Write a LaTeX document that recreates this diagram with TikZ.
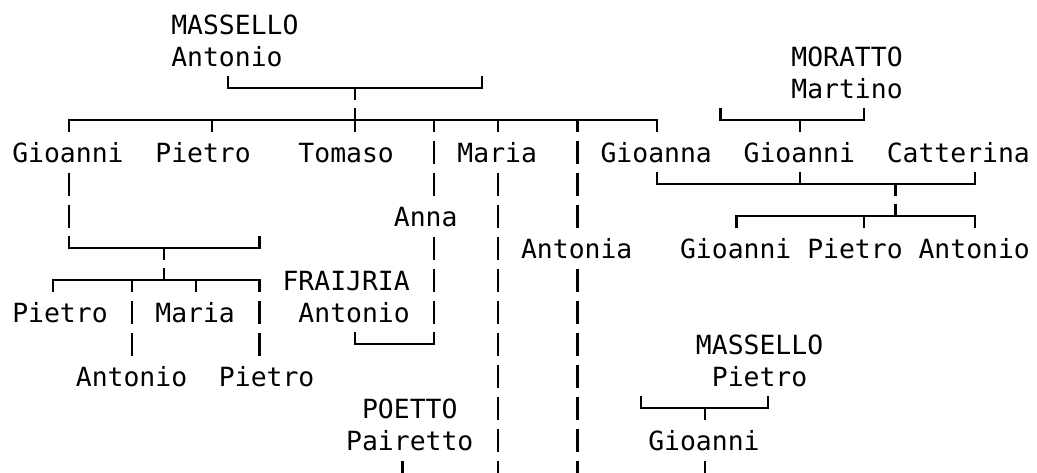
\documentclass[tikz,border=0pt]{standalone}
\usepackage{fontspec}
\newfontfamily\monof{DejaVu Sans Mono}
\tikzset{
  txt/.style={font=\monof\fontsize{19.81pt}{24pt}\selectfont, inner sep=0pt, anchor=base west, text=black},
  ln/.style={line width=1.6pt, draw=black},
  hln/.style={ln, line cap=rect}
}
% grid helpers: column c, row r (pixel units, y downwards)
\newcommand\tN[4]{\node[txt] (#1) at ({12+15.9*(#2)},{34+32*(#3)}) {#4};}
\newcommand\tV[2]{\draw[ln] ({20.95+15.9*(#1)},{24.4+32*(#2)-11.5}) -- ++(0,23);}
\newcommand\tU[2]{\draw[ln] ({20.95+15.9*(#1)},{24.4+32*(#2)-12}) -- ++(0,12);}
\newcommand\tD[2]{\draw[ln] ({20.95+15.9*(#1)},{24.4+32*(#2)}) -- ++(0,12);}
\newcommand\tH[3]{\draw[hln] ({20.95+15.9*(#1)},{24.4+32*(#3)}) -- ({20.95+15.9*(#2)},{24.4+32*(#3)});}
\begin{document}
\begin{tikzpicture}[x=0.75pt,y=-0.75pt]
\fill[white] (0,0) rectangle (1037,472);
\useasboundingbox (0,0) rectangle (1037,472);
\clip (0,0) rectangle (1037,472);

% ---- names ----
\tN{massA}{10}{0}{MASSELLO}
\tN{antA}{10}{1}{Antonio}
\tN{moratto}{49}{1}{MORATTO}
\tN{martino}{49}{2}{Martino}
\tN{gioA}{0}{4}{Gioanni}
\tN{pieA}{9}{4}{Pietro}
\tN{tomaso}{18}{4}{Tomaso}
\tN{mariaA}{28}{4}{Maria}
\tN{gioanna}{37}{4}{Gioanna}
\tN{gioB}{46}{4}{Gioanni}
\tN{catterina}{55}{4}{Catterina}
\tN{anna}{24}{6}{Anna}
\tN{antonia}{32}{7}{Antonia}
\tN{gioC}{42}{7}{Gioanni}
\tN{pieC}{50}{7}{Pietro}
\tN{antC}{57}{7}{Antonio}
\tN{fraijria}{17}{8}{FRAIJRIA}
\tN{pieD}{0}{9}{Pietro}
\tN{mariaD}{9}{9}{Maria}
\tN{antF}{18}{9}{Antonio}
\tN{massP}{43}{10}{MASSELLO}
\tN{antD}{4}{11}{Antonio}
\tN{pieE}{13}{11}{Pietro}
\tN{pieP}{44}{11}{Pietro}
\tN{poetto}{22}{12}{POETTO}
\tN{pairetto}{21}{13}{Pairetto}
\tN{gioE}{40}{13}{Gioanni}

% ---- MASSELLO Antonio bracket ----
\tU{13}{2} \tU{29}{2} \tH{13}{29}{2} \tD{21}{2}
% ---- children line ----
\tU{21}{3} \tH{3}{40}{3}
\foreach \c in {3,12,21,26,30,35,40} {\tD{\c}{3}}
% ---- MORATTO Martino bracket ----
\tU{44}{3} \tU{53}{3} \tH{44}{53}{3} \tD{49}{3}
% ---- Gioanna x Gioanni ----
\tU{40}{5} \tU{49}{5} \tU{60}{5} \tH{40}{60}{5} \tD{55}{5}
\tU{55}{6} \tH{45}{60}{6}
\foreach \c in {45,53,60} {\tD{\c}{6}}
% ---- Gioanni (left) family ----
\tV{3}{5} \tV{3}{6}
\tU{3}{7} \tU{15}{7} \tH{3}{15}{7} \tD{9}{7}
\tU{9}{8} \tH{2}{15}{8}
\foreach \c in {2,7,11,15} {\tD{\c}{8}}
\tV{7}{9} \tV{7}{10} \tV{15}{9} \tV{15}{10}
% ---- Anna x FRAIJRIA Antonio ----
\tV{26}{4} \tV{26}{5}
\foreach \r in {7,8,9} {\tV{26}{\r}}
\tU{21}{10} \tU{26}{10} \tH{21}{26}{10}
% ---- Maria line ----
\foreach \r in {5,...,14} {\tV{30}{\r}}
% ---- Antonia line ----
\foreach \r in {4,5,6,8,9,10,11,12,13,14} {\tV{35}{\r}}
% ---- MASSELLO Pietro bracket ----
\tU{39}{12} \tU{47}{12} \tH{39}{47}{12} \tD{43}{12}
\tV{43}{14}
% ---- POETTO Pairetto ----
\tV{24}{14}
\end{tikzpicture}
\end{document}
